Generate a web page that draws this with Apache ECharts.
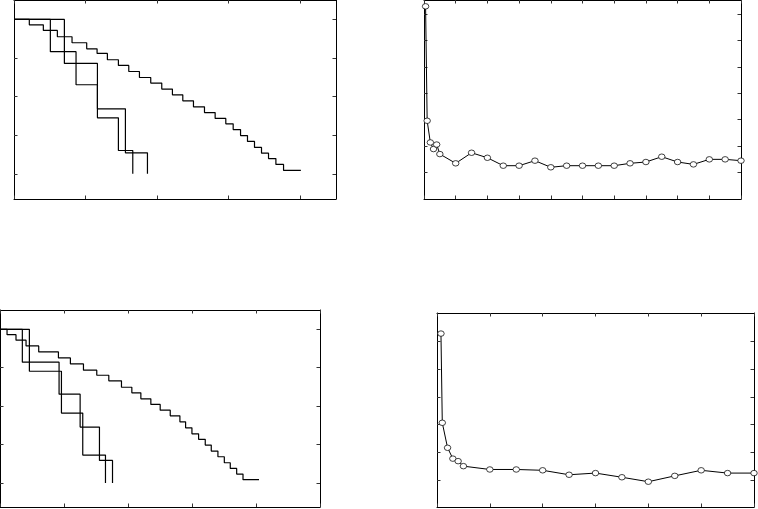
<!DOCTYPE html>
<html><head><meta charset="utf-8">
<script src="https://cdn.jsdelivr.net/npm/echarts@6/dist/echarts.min.js"></script>
<style>html,body{margin:0;padding:0;background:#fff}#c{width:758px;height:509px}</style>
</head><body><div id="c"></div>
<script>
// ---- Panel 1 (top-left): step curves ----
const p1aX = [0, 2.14, 4.10, 6.06, 8.11, 10.16, 11.61, 13.05, 14.59, 16.04, 17.53, 19.11, 20.65, 22.14, 23.59, 25.08, 26.62, 28.11, 29.60, 30.63, 31.66, 32.63, 33.61, 34.59, 35.57, 36.60, 37.67, 40.09];
const p1aY = [1, 0.965, 0.929, 0.888, 0.849, 0.810, 0.780, 0.739, 0.702, 0.663, 0.624, 0.588, 0.549, 0.512, 0.473, 0.434, 0.397, 0.359, 0.324, 0.287, 0.248, 0.210, 0.171, 0.134, 0.099, 0.061, 0.022, 0.022];
const p1bX = [0, 5.08, 8.67, 11.66, 15.57, 18.65];
const p1bY = [1, 0.791, 0.577, 0.421, 0.136, 0];
const p1cX = [0, 7.04, 11.66, 14.59, 16.60];
const p1cY = [1, 0.715, 0.363, 0.151, 0];
const p1XTicks = [0, 10, 20, 30, 40];
const p1YTicks = [0, 0.25, 0.5, 0.75, 1];

// ---- Panel 2 (top-right): marker line ----
const p2X = [0.5, 1, 2, 3, 4, 5, 10, 15, 20, 25, 30, 35, 40, 45, 50, 55, 60, 65, 70, 75, 80, 85, 90, 95, 100];
const p2Y = [7.29, 2.96, 2.14, 1.89, 2.06, 1.70, 1.35, 1.75, 1.56, 1.26, 1.26, 1.45, 1.20, 1.26, 1.26, 1.26, 1.26, 1.35, 1.40, 1.60, 1.40, 1.31, 1.50, 1.50, 1.45];
const p2XTicks = [0, 10, 20, 30, 40, 50, 60, 70, 80, 90, 100];
const p2YTicks = [1, 2, 3, 4, 5, 6, 7];

// ---- Panel 3 (bottom-left): step curves ----
const p3aX = [0, 1.10, 2.50, 4.07, 6.05, 9.13, 11.00, 13.04, 15.12, 17.00, 18.98, 20.60, 22.01, 23.57, 25.03, 26.60, 28.11, 29.00, 29.99, 31.03, 32.07, 33.01, 34.05, 35.05, 35.98, 36.98, 37.97, 40.47];
const p3aY = [1, 0.965, 0.929, 0.892, 0.853, 0.814, 0.775, 0.734, 0.701, 0.665, 0.623, 0.587, 0.548, 0.511, 0.474, 0.437, 0.398, 0.359, 0.320, 0.284, 0.247, 0.208, 0.171, 0.132, 0.095, 0.058, 0.022, 0.022];
const p3bX = [0, 3.49, 9.23, 12.52, 15.54, 17.58];
const p3bY = [1, 0.786, 0.578, 0.364, 0.147, 0];
const p3cX = [0, 4.59, 9.60, 12.93, 16.48];
const p3cY = [1, 0.727, 0.455, 0.182, 0];
const p3XTicks = [0, 10, 20, 30, 40, 50];
const p3YTicks = [0, 0.25, 0.5, 0.75, 1];

// ---- Panel 4 (bottom-right): marker line ----
const p4X = [0.75, 1, 2, 3, 4, 5, 10, 15, 20, 25, 30, 35, 40, 45, 50, 55, 60];
const p4Y = [6.28, 3.07, 2.17, 1.78, 1.69, 1.51, 1.39, 1.39, 1.36, 1.20, 1.26, 1.11, 0.95, 1.16, 1.36, 1.26, 1.26];
const p4XTicks = [0, 10, 20, 30, 40, 50, 60];
const p4YTicks = [1, 2, 3, 4, 5, 6];

const zip = (xs, ys) => xs.map((x, i) => [x, ys[i]]);

const grids = [
  {left: 14, top: 0, width: 322, height: 199, x: [0, 45], y: [-0.163, 1.126], xt: p1XTicks, yt: p1YTicks},
  {left: 424, top: 0, width: 317, height: 199, x: [0, 100], y: [0, 7.53], xt: p2XTicks, yt: p2YTicks},
  {left: 0, top: 310, width: 320, height: 197, x: [0, 50], y: [-0.156, 1.1255], xt: p3XTicks, yt: p3YTicks},
  {left: 437, top: 313, width: 317, height: 194, x: [0, 60], y: [0.04, 7.02], xt: p4XTicks, yt: p4YTicks}
];

const axLine = {show: true, onZero: false, lineStyle: {color: '#000', width: 1}};
const tick = (vals) => ({show: true, inside: true, length: 3.5, customValues: vals, lineStyle: {color: '#333', width: 1}});
const xAxis = [], yAxis = [];
grids.forEach((g, i) => {
  ['bottom', 'top'].forEach(pos => xAxis.push({
    type: 'value', gridIndex: i, position: pos, min: g.x[0], max: g.x[1],
    axisLine: axLine, axisTick: tick(g.xt), axisLabel: {show: false}, splitLine: {show: false}
  }));
  ['left', 'right'].forEach(pos => yAxis.push({
    type: 'value', gridIndex: i, position: pos, min: g.y[0], max: g.y[1],
    axisLine: axLine, axisTick: tick(g.yt), axisLabel: {show: false}, splitLine: {show: false}
  }));
});

const stepS = (gi, data) => ({
  type: 'line', step: 'end', xAxisIndex: gi * 2, yAxisIndex: gi * 2, data,
  symbol: 'none', lineStyle: {color: '#000', width: 1.2}, animation: false, silent: true
});
const markS = (gi, data) => ({
  type: 'line', xAxisIndex: gi * 2, yAxisIndex: gi * 2, data,
  symbol: 'circle', symbolSize: [6.5, 5.5], showAllSymbol: true,
  itemStyle: {color: '#fff', borderColor: '#111', borderWidth: 0.8},
  lineStyle: {color: '#000', width: 1}, animation: false, silent: true
});

const chart = echarts.init(document.getElementById('c'), null, {renderer: 'canvas'});
chart.setOption({
  backgroundColor: '#fff',
  animation: false,
  grid: grids.map(g => ({left: g.left, top: g.top, width: g.width, height: g.height, containLabel: false})),
  xAxis, yAxis,
  series: [
    stepS(0, zip(p1aX, p1aY)), stepS(0, zip(p1bX, p1bY)), stepS(0, zip(p1cX, p1cY)),
    markS(1, zip(p2X, p2Y)),
    stepS(2, zip(p3aX, p3aY)), stepS(2, zip(p3bX, p3bY)), stepS(2, zip(p3cX, p3cY)),
    markS(3, zip(p4X, p4Y))
  ]
});
</script></body></html>
